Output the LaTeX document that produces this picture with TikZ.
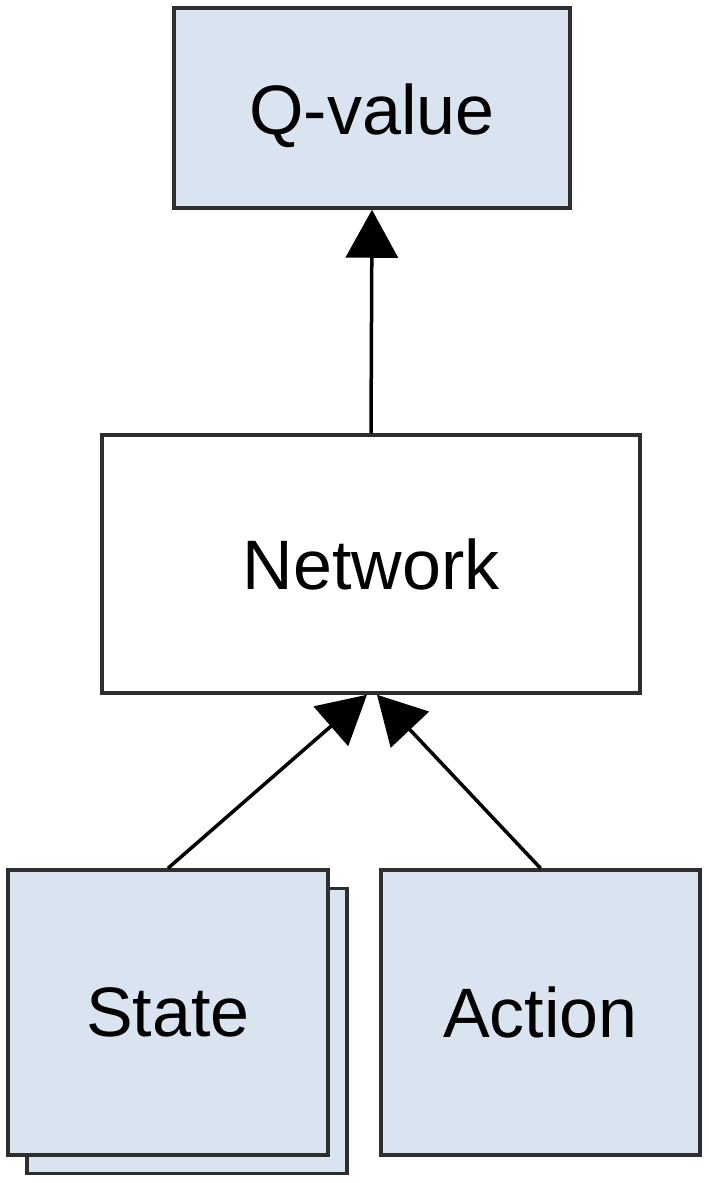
\documentclass[tikz,border=0pt]{standalone}
\usepackage{fontspec}
\setmainfont{Liberation Sans}
\usetikzlibrary{arrows.meta}
\definecolor{boxblue}{HTML}{DAE4F0}
\definecolor{edgegray}{HTML}{2E2E2E}
\begin{document}
\begin{tikzpicture}[x=1pt,y=-1pt,
  box/.style={draw=edgegray, line width=3.5pt, inner sep=0pt,
    font=\fontsize{70}{72}\selectfont},
  bluebox/.style={box, fill=boxblue},
  link/.style={line width=3.5pt, black,
    -{Triangle[length=48pt,width=52pt]}}]
\useasboundingbox (0,0) rectangle (709,1183);
% output
\node[bluebox, minimum width=396pt, minimum height=200pt,
      text height=58pt, text depth=6pt] (q) at (372,108) {Q-value};
% network
\node[box, fill=white, minimum width=538pt, minimum height=258pt] (net) at (371,564) {Network};
% stacked state inputs
\node[bluebox, minimum width=320pt, minimum height=285pt] (stateback) at (187,1031) {};
\node[bluebox, minimum width=320pt, minimum height=285pt] (state) at (168,1012.5) {State};
% action input
\node[bluebox, minimum width=319pt, minimum height=285pt] (action) at (540.5,1012.5) {Action};
% connectors
\draw[link] (net.north) -- (q.south);
\draw[link] (state.north) -- ([xshift=-4pt]net.south);
\draw[link] (action.north) -- ([xshift=6pt]net.south);
\end{tikzpicture}
\end{document}
